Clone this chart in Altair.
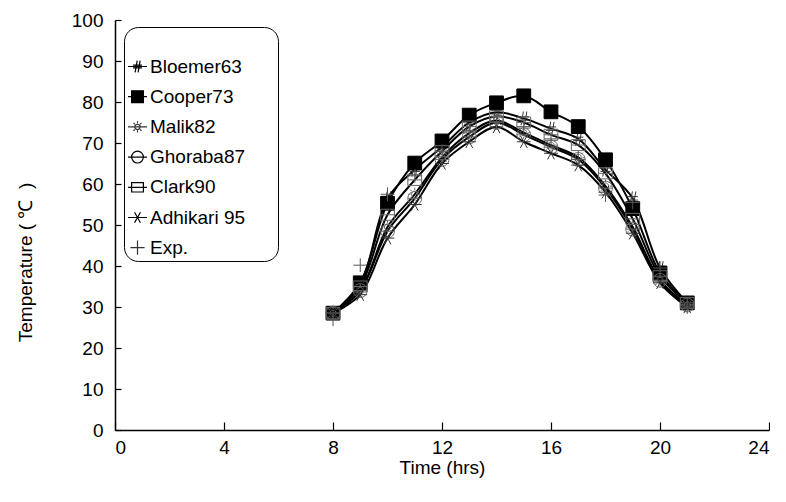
import altair as alt
import pandas as pd

hours = list(range(8, 22))
series_names = ["Bloemer63", "Cooper73", "Malik82", "Ghoraba87", "Clark90", "Adhikari 95", "Exp."]

bloemer63 = [28.5, 35.5, 56.5, 63.5, 69.0, 75.0, 77.5, 76.0, 73.5, 71.0, 63.5, 56.5, 39.5, 31.0]
cooper73 = [28.5, 35.9, 55.3, 65.1, 70.5, 76.8, 79.8, 81.5, 77.6, 74.0, 65.9, 54.0, 38.3, 31.0]
malik82 = [28.5, 34.0, 49.5, 57.5, 66.5, 72.4, 75.5, 72.5, 69.5, 66.5, 59.5, 49.5, 36.5, 30.5]
ghoraba87 = [28.5, 34.0, 48.5, 56.5, 66.0, 71.5, 75.0, 72.0, 69.0, 66.0, 59.0, 49.0, 36.5, 30.5]
clark90 = [28.5, 35.0, 52.5, 61.0, 68.0, 74.0, 76.5, 75.0, 72.0, 69.5, 62.6, 51.5, 37.5, 31.0]
adhikari95 = [28.5, 33.0, 46.8, 55.0, 65.0, 70.3, 73.9, 70.3, 67.5, 64.6, 58.0, 48.0, 35.9, 30.0]
exp_vals = [27.0, 40.2, 57.5, 62.0, 68.0, 73.0, 75.0, 74.0, 71.0, 66.0, 57.3, 55.5, 39.5, 30.0]

x_ticks = [0, 4, 8, 12, 16, 20, 24]
y_ticks = [0, 10, 20, 30, 40, 50, 60, 70, 80, 90, 100]

all_series = [bloemer63, cooper73, malik82, ghoraba87, clark90, adhikari95, exp_vals]
rows = []
for name, vals in zip(series_names, all_series):
    for h, v in zip(hours, vals):
        rows.append({"series": name, "hour": h, "temp": v})
df = pd.DataFrame(rows)

FONT = "Liberation Sans"


def f(v):
    return ("%.3f" % v).rstrip("0").rstrip(".")


def marker(kind, s):
    if kind == "hash":
        return ("M%s,%sL%s,%sM%s,%sL%s,%sM%s,%sH%sM%s,%sH%s" % (
            f(-0.4 * s), f(s), f(-0.05 * s), f(-s), f(0.1 * s), f(s), f(0.45 * s), f(-s),
            f(-0.75 * s), f(-0.25 * s), f(0.75 * s), f(-0.75 * s), f(0.25 * s), f(0.75 * s)))
    if kind == "square":
        return "M%s,%sH%sV%sH%sZ" % (f(-s), f(-s), f(s), f(s), f(-s))
    if kind == "sun":
        r = 0.45 * s
        p = "M%s,0A%s,%s,0,1,1,%s,0A%s,%s,0,1,1,%s,0" % (f(r), f(r), f(r), f(-r), f(r), f(r), f(r))
        a, b = 0.62 * s, 0.95 * s
        c, d = 0.44 * s, 0.68 * s
        p += "M0,%sV%sM0,%sV%sM%s,0H%sM%s,0H%s" % (f(-a), f(-b), f(a), f(b), f(a), f(b), f(-a), f(-b))
        p += "M%s,%sL%s,%sM%s,%sL%s,%sM%s,%sL%s,%sM%s,%sL%s,%s" % (
            f(c), f(c), f(d), f(d), f(-c), f(c), f(-d), f(d), f(c), f(-c), f(d), f(-d), f(-c), f(-c), f(-d), f(-d))
        return p
    if kind == "circle":
        r = s
        return ("M%s,0A%s,%s,0,1,1,%s,0A%s,%s,0,1,1,%s,0M%s,0H%s" % (
            f(r), f(r), f(r), f(-r), f(r), f(r), f(r), f(-r), f(r)))
    if kind == "boxline":
        return "M%s,%sH%sV%sH%sZM%s,0H%s" % (f(-s), f(-0.8 * s), f(s), f(0.8 * s), f(-s), f(-s), f(s))
    if kind == "star":
        return "M%s,0H%sM%s,%sL%s,%sM%s,%sL%s,%s" % (
            f(-s), f(s), f(-0.5 * s), f(-0.9 * s), f(0.5 * s), f(0.9 * s),
            f(0.5 * s), f(-0.9 * s), f(-0.5 * s), f(0.9 * s))
    if kind == "plus":
        return "M%s,0H%sM0,%sV%s" % (f(-s), f(s), f(-s), f(s))
    return ""


kinds = ["hash", "square", "sun", "circle", "boxline", "star", "plus"]
plot_shapes = [marker(k, 1.0) for k in kinds]
legend_shapes = []
for k in kinds:
    if k == "plus":
        legend_shapes.append(marker(k, 0.75))
    else:
        legend_shapes.append(marker(k, 0.62) + "M-1,0H1")

plot_fills = ["transparent", "black", "transparent", "transparent", "transparent", "transparent", "transparent"]
plot_strokes = ["#333333", "black", "#666666", "#666666", "#666666", "#333333", "#555555"]
legend_strokes = ["black", "black", "#333333", "black", "black", "black", "#333333"]

x_enc = alt.X("hour:Q", scale=alt.Scale(domain=[0, 24], nice=False),
              axis=alt.Axis(values=x_ticks, title="Time (hrs)", tickSize={"expr": "-8"},
                            labelPadding=16, titlePadding=1, grid=False))
y_enc = alt.Y("temp:Q", scale=alt.Scale(domain=[0, 100], nice=False),
              axis=alt.Axis(values=y_ticks, title="Temperature ( \u2103\u00a0\u00a0)", tickSize={"expr": "-6"},
                            labelPadding=18, titlePadding=36, titleY=242, grid=False))

base = alt.Chart(df)

lines = base.transform_filter("datum.series != 'Exp.'").mark_line(
    interpolate="catmull-rom", strokeWidth=2, color="black"
).encode(x=x_enc, y=y_enc, detail="series:N")

points = base.mark_point(filled=False, strokeWidth=1, opacity=1, size=190).encode(
    x=x_enc, y=y_enc,
    shape=alt.Shape("series:N", scale=alt.Scale(domain=series_names, range=plot_shapes), legend=None),
    fill=alt.Fill("series:N", scale=alt.Scale(domain=series_names, range=plot_fills), legend=None),
    stroke=alt.Stroke("series:N", scale=alt.Scale(domain=series_names, range=plot_strokes), legend=None),
)

leg = alt.Legend(
    title="\u00a0", orient="none", legendX=9, legendY=7,
    strokeColor="black", cornerRadius=14, padding=3, fillColor="white",
    labelFont=FONT, labelFontSize=19, labelColor="black", labelOffset=2,
    labelExpr="datum.label + '\u2003\u00a0\u00a0\u200b'",
    titleFont=FONT, titleFontSize=16, titlePadding=10,
    symbolSize=360, symbolStrokeWidth=1.2, rowPadding=9.2, symbolOpacity=1,
)

legend_layer = base.transform_filter("datum.hour < 0").mark_point(filled=False, strokeWidth=1.2).encode(
    x=x_enc, y=y_enc,
    shape=alt.Shape("series:N", scale=alt.Scale(domain=series_names, range=legend_shapes), legend=leg),
    fill=alt.Fill("series:N", scale=alt.Scale(domain=series_names, range=plot_fills), legend=leg),
    stroke=alt.Stroke("series:N", scale=alt.Scale(domain=series_names, range=legend_strokes), legend=leg),
)

chart = alt.layer(lines, points, legend_layer).resolve_scale(
    shape="independent", fill="independent", stroke="independent"
).properties(
    width=654, height=410,
    padding={"left": 8, "top": 3, "right": 0, "bottom": 5},
).configure_axis(
    labelFont=FONT, labelFontSize=19, labelColor="black",
    titleFont=FONT, titleFontSize=19, titleFontWeight="normal", titleColor="black",
    domainColor="black", domainWidth=1.5, tickColor="black", tickWidth=1.2,
).configure_view(strokeWidth=0)

chart.save("out.html", embed_options={"renderer": "svg", "actions": False})
